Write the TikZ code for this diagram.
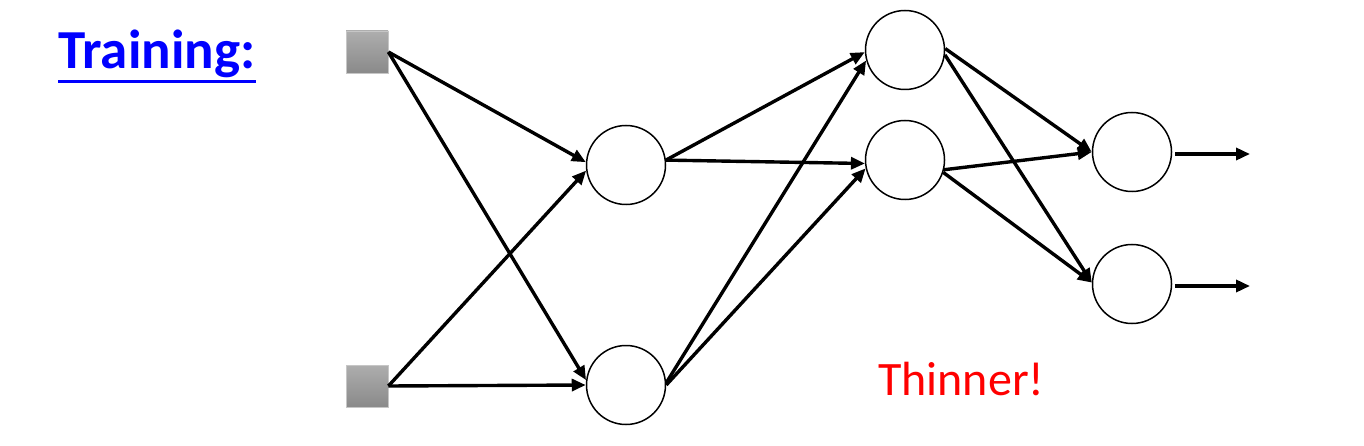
\documentclass[tikz,border=0pt]{standalone}
\usepackage{fontspec}
\setmainfont{Carlito}
\usetikzlibrary{arrows.meta}
\begin{document}
\begin{tikzpicture}[x=1pt,y=-1pt,
  neuron/.style={circle,draw=black,line width=1.5pt,minimum size=79pt,inner sep=0pt,fill=white},
  inputbox/.style={rectangle,draw=gray!45,line width=0.8pt,minimum size=42pt,inner sep=0pt,top color=black!32,bottom color=black!46},
  conn/.style={line width=3.4pt,-{Triangle[length=14pt,width=12pt]}},
  lbl/.style={inner sep=0pt,anchor=base west}]
\useasboundingbox (0,0) rectangle (1364,446);
\node[lbl,text=blue,font=\bfseries\fontsize{55}{60}\selectfont] (tr) at (58,69) {Training:};
\draw[blue,line width=2.8pt] ([yshift=-12.5pt]tr.base west) -- ([yshift=-12.5pt]tr.base east);
\node[lbl,text=red,font=\fontsize{48}{53}\selectfont] (th) at (878,395) {Thinner!};
\node[inputbox] (s1) at (367,52) {};
\node[inputbox] (s2) at (367,386) {};
\node[neuron] (h1) at (626,165) {};
\node[neuron] (h2) at (626,385) {};
\node[neuron] (g1) at (905,50) {};
\node[neuron] (g2) at (905,160) {};
\node[neuron] (o1) at (1132,152) {};
\node[neuron] (o2) at (1132,284) {};
\coordinate (e1) at (1250,154);
\coordinate (e2) at (1250,286);
\draw[conn] (s1.east) -- (h1.176);
\draw[conn] (s1.east) -- (h2.173);
\draw[conn] (s2.east) -- (h1.188);
\draw[conn] (s2.east) -- (h2.180);
\draw[conn] (h1.7) -- (g1.183);
\draw[conn] (h1.7) -- (g2.185);
\draw[conn] (h2.3) -- (g1.195);
\draw[conn] (h2.0) -- (g2.192);
\draw[conn] (g1.2) -- (o1.180);
\draw[conn] (g1.-7) -- (o2.178);
\draw[conn] (g2.-14) -- (o1.180);
\draw[conn] (g2.-18) -- (o2.178);
\draw[conn] ([xshift=3pt,yshift=-2pt]o1.east) -- (e1);
\draw[conn] ([xshift=3pt,yshift=-2pt]o2.east) -- (e2);
\end{tikzpicture}
\end{document}
